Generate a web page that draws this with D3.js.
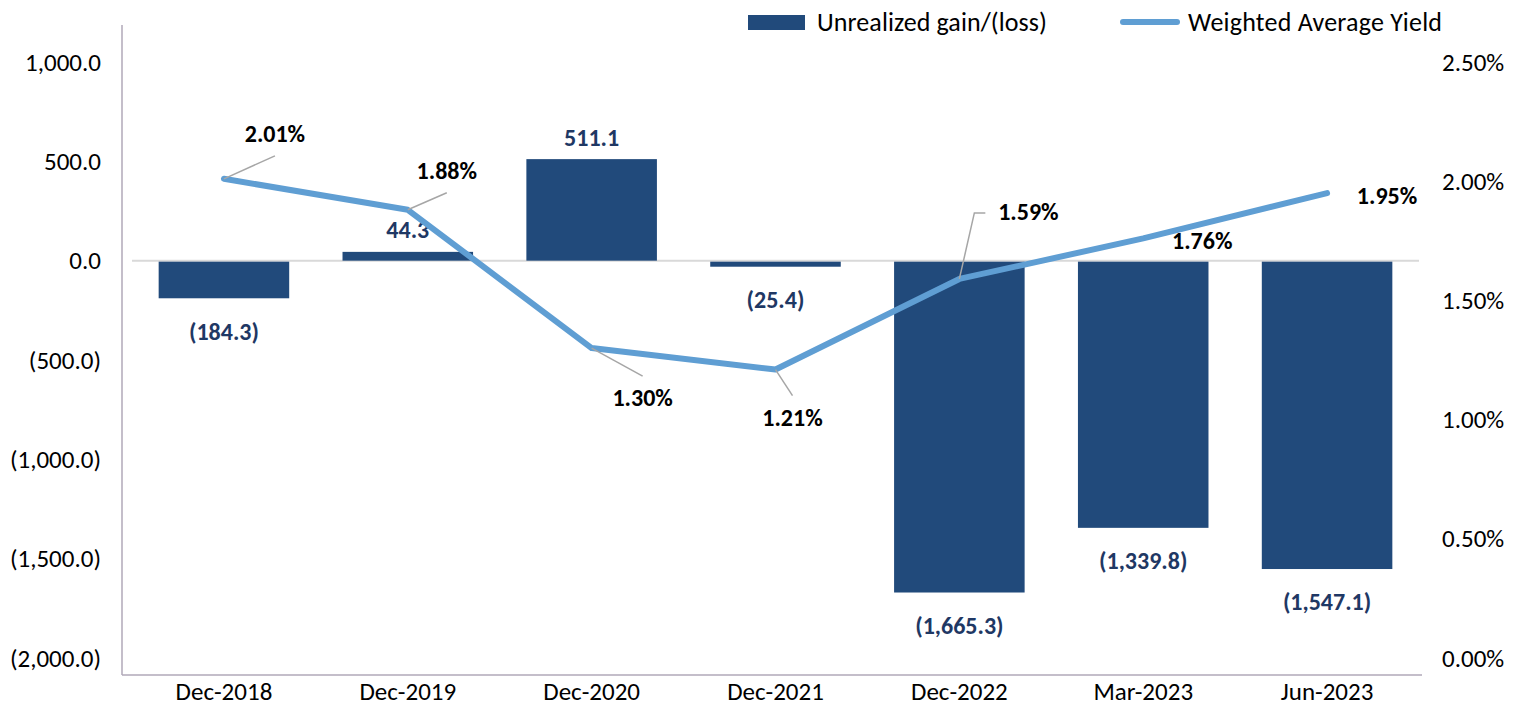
<!DOCTYPE html>
<html>
<head>
<meta charset="utf-8">
<script src="https://cdn.jsdelivr.net/npm/d3@7"></script>
<style>
  body { margin: 0; background: #fff; }
  svg { display: block; font-family: Calibri, Carlito, Lato, sans-serif; }
</style>
</head>
<body>
<svg id="chart" width="1515" height="707"></svg>
<script>
const categories = ['Dec-2018', 'Dec-2019', 'Dec-2020', 'Dec-2021', 'Dec-2022', 'Mar-2023', 'Jun-2023']
const gainLoss = [-184.3, 44.3, 511.1, -25.4, -1665.3, -1339.8, -1547.1]
const yieldPct = [2.01, 1.88, 1.30, 1.21, 1.59, 1.76, 1.95]
const leftTicks = [1000, 500, 0, -500, -1000, -1500, -2000]
const rightTicks = [2.5, 2.0, 1.5, 1.0, 0.5, 0.0]
const seriesNames = ['Unrealized gain/(loss)', 'Weighted Average Yield']

// where excel put the yield labels, relative to the point (dx, dy, leader?)
const yieldLabelPos = [
    {dx: 51, dy: -45, leader: true},
    {dx: 39, dy: -39, leader: true},
    {dx: 51, dy: 50, leader: true},
    {dx: 17, dy: 48, leader: true},
    {dx: 69, dy: -67, leader: 'elbow'},
    {dx: 59, dy: 2, leader: false},
    {dx: 60, dy: 2, leader: false}
]

const barColor = '#214a7b'
const lineColor = '#5f9ed3'
const labelNavy = '#1f3864'
const axisColor = '#b0a8b9'

const svg = d3.select('#chart')

const plotTop = 25, plotBottom = 675, axisLeft = 122, plotLeft = 132, plotRight = 1419

const x = d3.scaleBand()
    .domain(categories)
    .range([plotLeft, plotRight])
    .paddingInner(0.29)
    .paddingOuter(0.145)

const yL = d3.scaleLinear().domain([-2000, 1000]).range([658, 62])
const yR = d3.scaleLinear().domain([0, 2.5]).range([658, 62])

const fmtNum = v => {
    const s = d3.format(',.1f')(Math.abs(v))
    return v < 0 ? `(${s})` : s
}

// axis lines
svg.append('line')
    .attr('x1', axisLeft).attr('x2', axisLeft)
    .attr('y1', plotTop).attr('y2', plotBottom)
    .attr('stroke', axisColor).attr('stroke-width', 1.5)

svg.append('line')
    .attr('x1', axisLeft).attr('x2', plotRight + 3)
    .attr('y1', plotBottom).attr('y2', plotBottom)
    .attr('stroke', axisColor).attr('stroke-width', 1.5)

const styleAxis = g => {
    g.select('.domain').remove()
    g.attr('font-family', null).attr('font-size', null)
    g.selectAll('text')
        .attr('font-size', 25)
        .attr('font-weight', 'normal')
        .attr('fill', '#000')
}

// left ticks
svg.append('g')
    .attr('transform', `translate(${axisLeft - 21},0)`)
    .call(d3.axisLeft(yL).tickValues(leftTicks).tickSize(0).tickPadding(0).tickFormat(fmtNum))
    .call(styleAxis)

// right ticks
svg.append('g')
    .attr('transform', `translate(1442,0)`)
    .call(d3.axisRight(yR).tickValues(rightTicks).tickSize(0).tickPadding(0).tickFormat(d => d3.format('.2f')(d) + '%'))
    .call(styleAxis)

// category labels
svg.append('g')
    .attr('transform', `translate(0,${plotBottom + 25})`)
    .call(d3.axisBottom(x).tickSize(0).tickPadding(0))
    .call(styleAxis)
    .selectAll('text')
    .attr('dy', 0)

// zero line
svg.append('line')
    .attr('x1', plotLeft).attr('x2', plotRight)
    .attr('y1', yL(0)).attr('y2', yL(0))
    .attr('stroke', '#d9d9d9').attr('stroke-width', 2)

const bars = categories.map((c, i) => ({cat: c, value: gainLoss[i]}))

svg.append('g').selectAll('rect')
    .data(bars)
    .enter()
    .append('rect')
    .attr('x', d => x(d.cat))
    .attr('width', x.bandwidth())
    .attr('y', d => d.value >= 0 ? yL(d.value) : yL(0) + 1)
    .attr('height', d => Math.abs(yL(d.value) - yL(0)))
    .attr('fill', barColor)

svg.append('g').selectAll('text')
    .data(bars)
    .enter()
    .append('text')
    .attr('x', d => x(d.cat) + x.bandwidth() / 2)
    .attr('y', d => d.value >= 0 ? yL(d.value) - 22 : yL(d.value) + 34)
    .attr('dy', '0.35em')
    .attr('text-anchor', 'middle')
    .attr('font-size', 24)
    .attr('font-weight', 'bold')
    .attr('fill', labelNavy)
    .text(d => fmtNum(d.value))

// yield line
const points = categories.map((c, i) => ({
    cat: c,
    v: yieldPct[i],
    px: x(c) + x.bandwidth() / 2,
    py: yR(yieldPct[i]),
    pos: yieldLabelPos[i]
}))

svg.append('path')
    .datum(points)
    .attr('d', d3.line().x(d => d.px).y(d => d.py))
    .attr('fill', 'none')
    .attr('stroke', lineColor)
    .attr('stroke-width', 6)
    .attr('stroke-linecap', 'round')
    .attr('stroke-linejoin', 'round')

// leader lines
const leaders = svg.append('g')
points.filter(d => d.pos.leader).forEach(d => {
    const lx = d.px + d.pos.dx, ly = d.pos.dy < 0 ? d.py + d.pos.dy + 22 : d.py + d.pos.dy - 22
    if (d.pos.leader === 'elbow') {
        leaders.append('polyline')
            .attr('points', `${d.px},${d.py} ${d.px + 15},${d.py + d.pos.dy + 1} ${d.px + 26},${d.py + d.pos.dy + 1}`)
            .attr('fill', 'none')
            .attr('stroke', '#a6a6a6').attr('stroke-width', 1.5)
    } else {
        leaders.append('line')
            .attr('x1', d.px).attr('y1', d.py)
            .attr('x2', lx).attr('y2', ly)
            .attr('stroke', '#a6a6a6').attr('stroke-width', 1.5)
    }
})

svg.append('g').selectAll('text')
    .data(points)
    .enter()
    .append('text')
    .attr('x', d => d.px + d.pos.dx)
    .attr('y', d => d.py + d.pos.dy)
    .attr('dy', '0.35em')
    .attr('text-anchor', 'middle')
    .attr('font-size', 24)
    .attr('font-weight', 'bold')
    .attr('fill', '#000')
    .text(d => d3.format('.2f')(d.v) + '%')

// legend
const legend = svg.append('g')
legend.append('rect')
    .attr('x', 748).attr('y', 15)
    .attr('width', 57).attr('height', 15)
    .attr('fill', barColor)
legend.append('text')
    .attr('x', 817).attr('y', 22).attr('dy', '0.35em')
    .attr('font-size', 26)
    .attr('textLength', 230)
    .text(seriesNames[0])
legend.append('line')
    .attr('x1', 1123).attr('x2', 1177)
    .attr('y1', 22).attr('y2', 22)
    .attr('stroke', lineColor).attr('stroke-width', 6)
    .attr('stroke-linecap', 'round')
legend.append('text')
    .attr('x', 1188).attr('y', 22).attr('dy', '0.35em')
    .attr('font-size', 26)
    .attr('textLength', 254)
    .text(seriesNames[1])
</script>
</body>
</html>
